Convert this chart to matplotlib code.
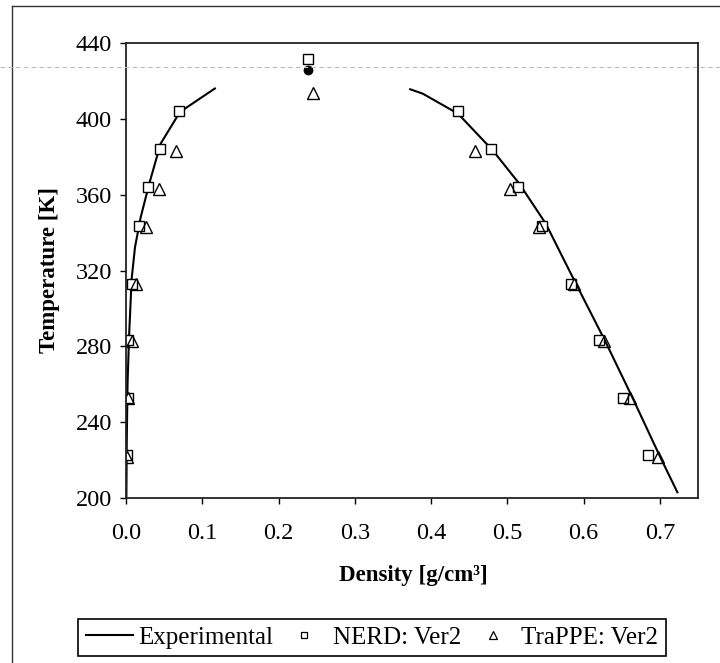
import matplotlib
matplotlib.use("Agg")
import matplotlib.pyplot as plt
from matplotlib.lines import Line2D
from matplotlib.ticker import FormatStrFormatter

plt.rcParams['font.family'] = ['Liberation Serif', 'DejaVu Serif']

# ---------------- data ----------------
# Experimental coexistence curve: vapour branch and liquid branch
exp_vap_rho = [0.0005, 0.001, 0.002, 0.004, 0.0074, 0.0118, 0.0192, 0.0305, 0.0454, 0.0707, 0.1165]
exp_vap_T   = [200.0, 230.0, 260.0, 285.0, 315.6, 332.3, 348.0, 365.8, 386.9, 403.6, 416.0]
exp_liq_rho = [0.3726, 0.389, 0.4354, 0.4808, 0.5157, 0.5506, 0.568, 0.590, 0.628, 0.664, 0.700, 0.723]
exp_liq_T   = [415.6, 413.3, 402.7, 383.4, 365.8, 344.6, 330.6, 313.0, 283.0, 253.0, 222.0, 203.0]
exp_crit_rho = [0.239]
exp_crit_T   = [425.6]

# NERD: Ver2
nerd_T       = [222.5, 253.0, 283.5, 313.0, 343.5, 363.8, 384.0, 404.0]
nerd_vap_rho = [0.001, 0.002, 0.003, 0.008, 0.017, 0.029, 0.045, 0.070]
nerd_liq_rho = [0.685, 0.652, 0.620, 0.584, 0.545, 0.5135, 0.4786, 0.4354]
nerd_crit_rho = [0.239]
nerd_crit_T   = [431.4]

# TraPPE: Ver2
trappe_T       = [221.8, 252.5, 283.0, 313.0, 343.0, 363.0, 383.0]
trappe_vap_rho = [0.001, 0.002, 0.0075, 0.013, 0.026, 0.043, 0.065]
trappe_liq_rho = [0.697, 0.661, 0.627, 0.587, 0.541, 0.504, 0.457]
trappe_crit_rho = [0.245]
trappe_crit_T   = [413.8]

x_ticks = [0.0, 0.1, 0.2, 0.3, 0.4, 0.5, 0.6, 0.7]
y_ticks = [200, 240, 280, 320, 360, 400, 440]

# ---------------- figure ----------------
W, H = 720, 663
fig = plt.figure(figsize=(W / 100, H / 100), dpi=100)
ax = fig.add_axes([126 / W, 1 - 498 / H, 572 / W, 455 / H])

line_kw = dict(color='black', lw=1.5)
ax.plot(exp_vap_rho, exp_vap_T, **line_kw)
ax.plot(exp_liq_rho, exp_liq_T, **line_kw)
ax.plot(exp_crit_rho, exp_crit_T, 'o', color='black', ms=6)

sq_kw = dict(marker='s', ls='none', mfc='white', mec='black', mew=1.0, ms=7)
tr_kw = dict(marker='^', ls='none', mfc='none', mec='black', mew=1.0, ms=8)
ax.plot(nerd_vap_rho, nerd_T, **sq_kw)
ax.plot(nerd_liq_rho, nerd_T, **sq_kw)
ax.plot(nerd_crit_rho, nerd_crit_T, **sq_kw)
ax.plot(trappe_vap_rho, trappe_T, **tr_kw)
ax.plot(trappe_liq_rho, trappe_T, **tr_kw)
ax.plot(trappe_crit_rho, trappe_crit_T, **tr_kw)

ax.set_xlim(0, 0.75)
ax.set_ylim(200, 440)
ax.set_xticks(x_ticks)
ax.set_yticks(y_ticks)
ax.xaxis.set_major_formatter(FormatStrFormatter('%.1f'))
ax.tick_params(direction='out', length=4, width=1.0, labelsize=17.5, colors='black')
ax.tick_params(axis='x', pad=14)
ax.tick_params(axis='y', pad=6)
for s in ax.spines.values():
    s.set_linewidth(1.3)
    s.set_color('#222222')

fig.text(413 / W, 1 - 575 / H, 'Density [g/cm\u00b3]', ha='center', va='center',
         fontsize=16.5, fontweight='bold')
fig.text(50 / W, 1 - 270 / H, 'Temperature [K]', ha='center', va='center',
         rotation=90, fontsize=16.5, fontweight='bold')

handles = [
    Line2D([], [], color='black', lw=1.5),
    Line2D([], [], marker='s', ls='none', mfc='white', mec='black', mew=0.9, ms=5),
    Line2D([], [], marker='^', ls='none', mfc='white', mec='black', mew=0.9, ms=5.5),
]
labels = ['Experimental', 'NERD: Ver2', 'TraPPE: Ver2']
leg = fig.legend(handles, labels, loc='center', bbox_to_anchor=(372 / W, 1 - 637.5 / H),
                 ncol=3, fontsize=18, frameon=True, fancybox=False, framealpha=1,
                 edgecolor='black', handlelength=1.9, handletextpad=0.2,
                 columnspacing=0.3, borderpad=0.3, borderaxespad=0)
leg.get_frame().set_linewidth(1.2)

# outer frame of the scanned figure and scan streak
fig.add_artist(Line2D([12 / W, 12 / W], [0, 1 - 6 / H], transform=fig.transFigure,
                      color='#333333', lw=1.0))
fig.add_artist(Line2D([12 / W, 1], [1 - 6 / H, 1 - 6 / H], transform=fig.transFigure,
                      color='#333333', lw=1.0))
fig.add_artist(Line2D([0, 1], [1 - 67 / H, 1 - 67 / H], transform=fig.transFigure,
                      color='#bbbbbb', lw=0.8, ls=(0, (4, 3))))

fig.savefig('out.png', dpi=100)
